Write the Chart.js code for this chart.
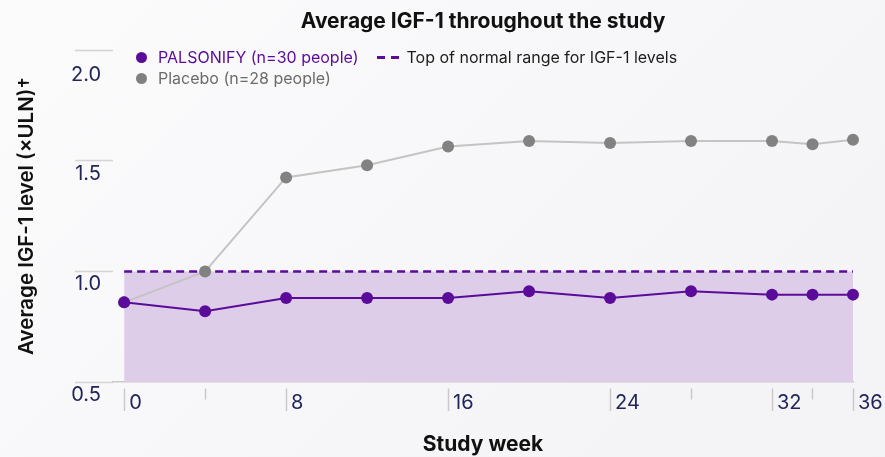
<!DOCTYPE html>
<html>
<head>
<meta charset="utf-8">
<script src="https://cdn.jsdelivr.net/npm/chart.js@4"></script>
<style>
  body { margin: 0; background: linear-gradient(135deg, #fbfbfc, #f3f3f6); font-family: Inter, sans-serif; }
  #wrap { position: relative; width: 885px; height: 457px; }
  .leg { position: absolute; left: 136px; height: 20px; line-height: 20px; font-size: 16px; display: flex; align-items: center; white-space: nowrap; }
  .dot { width: 11px; height: 11px; border-radius: 50%; display: inline-block; margin-right: 11px; }
  .dash { display: inline-block; width: 8px; height: 3px; background: #5b0b99; margin-right: 6px; }
</style>
</head>
<body>
<div id="wrap">
  <canvas id="myChart"></canvas>
  <div class="leg" style="top:47px;">
    <span class="dot" style="background:#5b0b99"></span><span style="color:#5b0b99">PALSONIFY (n=30 people)</span>
    <span style="display:inline-block;width:18px"></span>
    <span class="dash"></span><span class="dash" style="margin-right:8px"></span><span style="color:#1c1c1c">Top of normal range for IGF-1 levels</span>
  </div>
  <div class="leg" style="top:68px;">
    <span class="dot" style="background:#808080"></span><span style="color:#6b6b6b">Placebo (n=28 people)</span>
  </div>
</div>
<script>
// data
var weeks = [0, 4, 8, 12, 16, 20, 24, 28, 32, 34, 36];
var palsonify = [0.86, 0.82, 0.88, 0.88, 0.88, 0.91, 0.88, 0.91, 0.895, 0.895, 0.895];
var placebo = [0.86, 1.0, 1.425, 1.48, 1.565, 1.59, 1.58, 1.59, 1.59, 1.575, 1.595];
var rangeWeeks = [0, 36];
var rangeTop = [1.0, 1.0];
var majorWeeks = [0, 8, 16, 24, 32, 36];
var minorWeeks = [4, 28, 34];

var purple = '#5b0b99';
var navy = '#22255a';

function pts(xs, ys) {
  return xs.map(function (x, i) { return { x: x, y: ys[i] }; });
}

var ctx = document.getElementById('myChart').getContext('2d');
var chart = new Chart(ctx, {
  type: 'line',
  data: {
    datasets: [
      {
        label: 'PALSONIFY (n=30 people)',
        data: pts(weeks, palsonify),
        borderColor: purple,
        backgroundColor: purple,
        borderWidth: 2,
        pointRadius: 6,
        pointBorderWidth: 0,
        fill: false,
        clip: false,
        order: 1,
      },
      {
        label: 'Placebo (n=28 people)',
        data: pts(weeks, placebo),
        borderColor: '#c4c4c4',
        backgroundColor: '#828282',
        borderWidth: 2,
        pointRadius: 6,
        pointBorderWidth: 0,
        fill: false,
        clip: false,
        order: 2,
      },
      {
        label: 'Top of normal range for IGF-1 levels',
        data: pts(rangeWeeks, rangeTop),
        borderColor: purple,
        backgroundColor: '#decde8',
        borderWidth: 2.5,
        borderDash: [8, 5],
        pointRadius: 0,
        fill: 'start',
        order: 3,
      },
    ]
  },
  options: {
    responsive: true,
    maintainAspectRatio: false,
    animation: false,
    layout: { padding: { left: 0, right: 32, top: 0, bottom: 0 } },
    plugins: {
      legend: { display: false },
      tooltip: { enabled: false },
      title: {
        display: true,
        fullSize: false,
        text: 'Average IGF-1 throughout the study',
        color: '#111',
        font: { family: 'Inter', size: 21, weight: '700' },
        padding: { top: 9, bottom: 16 },
      },
    },
    scales: {
      x: {
        type: 'linear',
        min: -0.55,
        max: 36,
        afterBuildTicks: function (scale) {
          scale.ticks = majorWeeks.concat(minorWeeks).sort(function (a, b) { return a - b; })
            .map(function (v) { return { value: v }; });
        },
        afterFit: function (scale) { scale.height = 75; },
        ticks: {
          align: 'start',
          labelOffset: 5,
          padding: -20,
          color: navy,
          font: { family: 'Inter', size: 20 },
          callback: function (v) { return majorWeeks.indexOf(v) >= 0 ? String(v) : ''; },
        },
        grid: {
          drawOnChartArea: false,
          tickLength: 29,
          tickColor: '#c9c9c9',
          tickWidth: 1.5,
          tickBorderDash: function (c) {
            if (c.tick && majorWeeks.indexOf(c.tick.value) >= 0) return [0, 6, 23, 60];
            return [0, 6, 11, 60];
          },
        },
        border: { display: true, color: '#c9c9c9', width: 1.5 },
        title: {
          display: true,
          text: 'Study week',
          color: '#111',
          font: { family: 'Inter', size: 21, weight: '700' },
          padding: { top: 0, bottom: 0 },
        },
      },
      y: {
        min: 0.5,
        max: 2.0,
        afterFit: function (scale) { scale.width = 113; },
        ticks: {
          stepSize: 0.5,
          padding: -26,
          color: navy,
          font: { family: 'Inter', size: 20 },
          labelOffset: 13,
          // top label sits lower in the original, push it down one line
          callback: function (v) { return v === 2 ? ['', v.toFixed(1)] : v.toFixed(1); },
        },
        grid: {
          drawOnChartArea: false,
          tickLength: 38,
          tickColor: '#d4d4d4',
          tickWidth: 1.5,
        },
        border: { display: false },
        title: {
          display: true,
          text: 'Average IGF-1 level (×ULN)†',
          color: '#111',
          font: { family: 'Inter', size: 20.5, weight: '600' },
          padding: { top: 15, bottom: 0 },
        },
      },
    },
  }
});
</script>
</body>
</html>
